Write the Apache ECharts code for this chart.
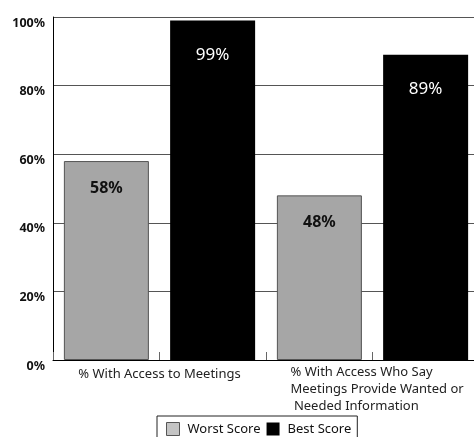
<!DOCTYPE html>
<html>
<head>
<meta charset="utf-8">
<script src="https://cdn.jsdelivr.net/npm/echarts@6/dist/echarts.min.js"></script>
<style>
  html, body { margin:0; padding:0; background:#fff; }
  #chart { width:474px; height:437px; }
</style>
</head>
<body>
<div id="chart"></div>
<script>
// ---- data ----
const categories = ['% With Access to Meetings', '% With Access Who Say\nMeetings Provide Wanted or\n Needed Information'];
const worstScore = [58, 48];
const bestScore = [99, 89];
const seriesNames = ['Worst Score', 'Best Score'];
const tickSlots = ['', '', '', ''];

const FONT = '"Noto Sans", "Open Sans", sans-serif';

const chart = echarts.init(document.getElementById('chart'));
chart.setOption({
  animation:false,
  textStyle:{ fontFamily:FONT },
  grid:{ left:53, top:17, width:426, height:343, outerBoundsMode:'none' },
  legend:{
    left:157, top:416,
    orient:'horizontal',
    borderColor:'#222', borderWidth:1, borderRadius:0,
    padding:[6, 6, 8, 9],
    itemWidth:13, itemHeight:13, itemGap:6,
    icon:'rect',
    textStyle:{ fontFamily:FONT, fontSize:13, color:'#111', padding:[0,0,0,3] },
    data:[
      { name:seriesNames[0], itemStyle:{ color:'#c4c4c4', borderColor:'#555', borderWidth:1 } },
      { name:seriesNames[1], itemStyle:{ color:'#000' } }
    ]
  },
  xAxis:[
    { type:'category', data:categories,
      axisLine:{ show:true, lineStyle:{ color:'#000', width:1 } },
      axisTick:{ show:false },
      axisLabel:{
        interval:0, margin:4, color:'#222', fontFamily:FONT, fontSize:13, lineHeight:17,
        formatter:(v)=> v.indexOf('\n') < 0 ? '{b|'+v+'}' : v.split('\n').map(l=>'{a|'+l+'}').join('\n'),
        rich:{
          a:{ width:176, align:'left', padding:[0,0,0,12], fontFamily:FONT, fontSize:13, lineHeight:17, color:'#222' },
          b:{ padding:[4,0,0,0], fontFamily:FONT, fontSize:13, lineHeight:17, color:'#222' }
        }
      }
    },
    { type:'category', data:tickSlots, position:'bottom', gridIndex:0,
      axisLine:{ show:false },
      axisTick:{ show:true, inside:true, length:8, lineStyle:{ color:'#666', width:1 } },
      axisLabel:{ show:false }
    }
  ],
  yAxis:{
    type:'value', min:0, max:100, interval:20,
    axisLine:{ show:true, lineStyle:{ color:'#000', width:1 } },
    axisTick:{ show:false },
    axisLabel:{ formatter:'{value}%', margin:8, verticalAlign:'top', lineHeight:12,
      color:'#111', fontFamily:FONT, fontSize:12.5, fontWeight:'bold' },
    splitLine:{ show:true, lineStyle:{ color:'#555', width:1 } }
  },
  series:[
    { name:seriesNames[0], type:'bar', data:worstScore, barWidth:85, barGap:'25%',
      itemStyle:{ color:'#a6a6a6', borderColor:'#555', borderWidth:1 },
      label:{ show:true, position:'insideTop', distance:19, formatter:'{c}%',
        color:'#111', fontFamily:FONT, fontSize:16, fontWeight:'bold' } },
    { name:seriesNames[1], type:'bar', data:bestScore, barWidth:85, barGap:'25%',
      itemStyle:{ color:'#000' },
      label:{ show:true, position:'insideTop', distance:26, formatter:'{c}%',
        color:'#fff', fontFamily:FONT, fontSize:17, fontWeight:'normal' } }
  ]
});
</script>
</body>
</html>
